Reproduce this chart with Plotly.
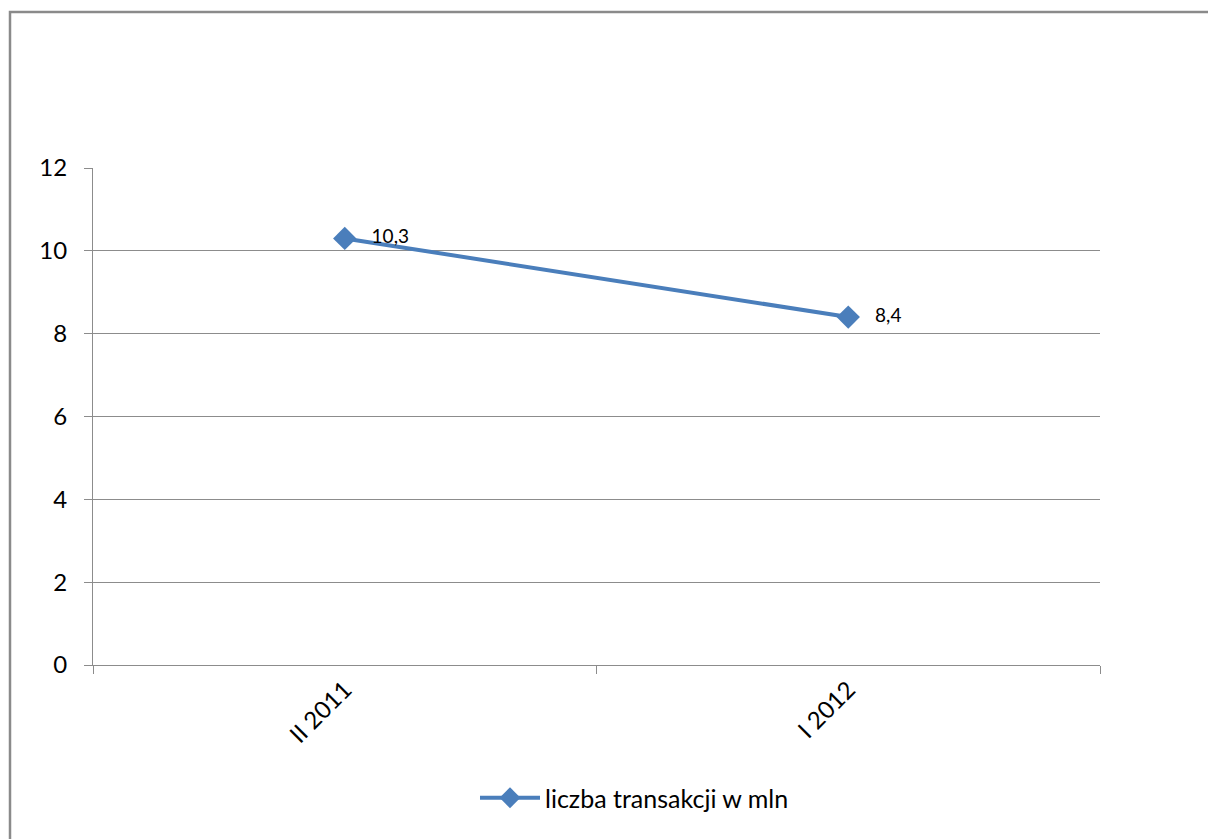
import plotly.graph_objects as go

# Transaction counts (millions) by half-year
periods = ["II 2011", "I 2012"]
transactions = [10.3, 8.4]
value_labels = ["10,3", "8,4"]
y_ticks = [0, 2, 4, 6, 8, 10, 12]

blue = "#4A7EBB"
grid = "#8C8C8C"
font_family = "Lato, sans-serif"

fig = go.Figure()
fig.add_trace(go.Scatter(
    x=periods,
    y=transactions,
    mode="lines+markers+text",
    name="liczba transakcji w mln",
    line=dict(color=blue, width=4),
    marker=dict(symbol="diamond", size=18, color=blue),
    text=value_labels,
    texttemplate="   %{text}",
    textposition="middle right",
    textfont=dict(size=19, color="#000000", family=font_family),
    cliponaxis=False,
))

W, H = 1208, 839
left, right, top, bottom = 93, 1100, 168, 665
pw, ph = right - left, bottom - top

# Outer chart border (only top and left edges fall inside the canvas)
fig.add_shape(
    type="rect", xref="paper", yref="paper",
    x0=(10 - left) / pw, x1=(W + 20 - left) / pw,
    y0=(bottom - (H + 20)) / ph, y1=(bottom - 12) / ph,
    line=dict(color="#8A8A8A", width=2.5), fillcolor="rgba(0,0,0,0)",
    layer="below",
)

fig.update_layout(
    width=W, height=H,
    margin=dict(l=left, r=W - right, t=top, b=H - bottom),
    paper_bgcolor="white", plot_bgcolor="white",
    font=dict(family=font_family, size=24, color="#000000"),
    showlegend=True,
    legend=dict(
        orientation="h", x=0.5 + 38 / pw, xanchor="center",
        y=(bottom - 798) / ph, yanchor="middle",
        font=dict(size=25), itemwidth=60,
    ),
    xaxis=dict(
        type="category", range=[-0.5, 1.5],
        tickson="boundaries", ticks="outside", ticklen=8, tickcolor=grid,
        showline=True, linecolor=grid, linewidth=1,
        showgrid=False, tickangle=-45, tickfont=dict(size=24),
        zeroline=False,
    ),
    yaxis=dict(
        range=[0, 12], tickvals=y_ticks,
        ticks="outside", ticklen=8, tickcolor=grid,
        showline=True, linecolor=grid, linewidth=1,
        showgrid=True, gridcolor=grid, gridwidth=1,
        zeroline=False, tickfont=dict(size=24), ticklabelstandoff=12,
    ),
)

fig.write_html("out.html")
